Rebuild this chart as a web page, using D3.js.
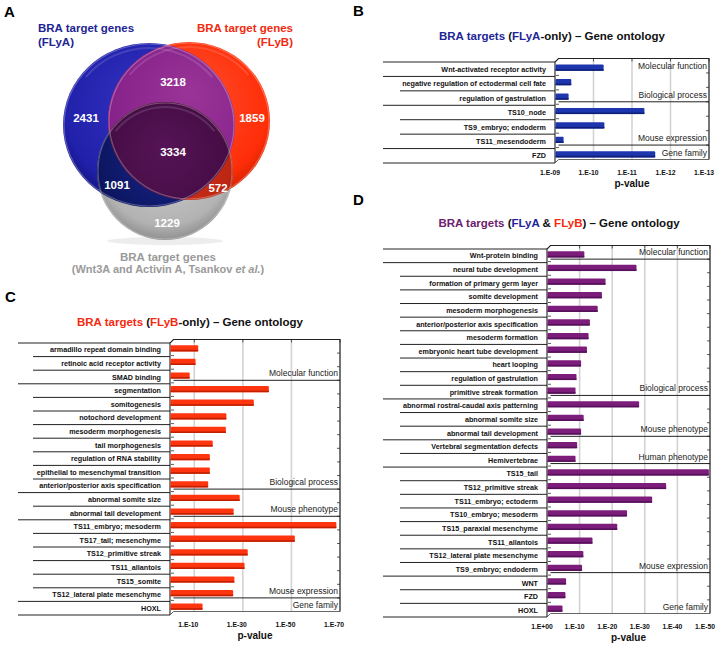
<!DOCTYPE html>
<html><head><meta charset="utf-8">
<script src="https://cdn.jsdelivr.net/npm/d3@7"></script>
<style>body{margin:0;background:#fff} svg{display:block} text{font-family:"Liberation Sans",Arial,Helvetica,sans-serif}</style>
</head><body><svg id="fig" width="719" height="646"></svg>
<script>
// ---------- DATA ----------
// Venn (panel A) region counts
const vennRegions = ["FLyA only","FLyB only","Tsankov only","FLyA & FLyB","FLyA & Tsankov","FLyB & Tsankov","all three"];
const vennCounts  = [2431, 1859, 1229, 3218, 1091, 572, 3334];

// Panel B: FLyA-only (values = -log10 p)
const bCategories = ["Wnt-activated receptor activity","negative regulation of ectodermal cell fate","regulation of gastrulation","TS10_node","TS9_embryo; endoderm","TS11_mesendoderm","FZD"];
const bValues = [10.25, 9.41, 9.34, 11.31, 10.27, 9.21, 11.59];
const bGroups = ["Molecular function","Biological process","Mouse expression","Gene family"];
const bGroupSizes = [1,2,3,1];
const bTicks = [9,10,11,12,13];
const bTickLabels = ["1.E-09","1.E-10","1.E-11","1.E-12","1.E-13"];

// Panel C: FLyB-only
const cCategories = ["armadillo repeat domain binding","retinoic acid receptor activity","SMAD binding",
  "segmentation","somitogenesis","notochord development","mesoderm morphogenesis","tail morphogenesis","regulation of RNA stability","epithelial to mesenchymal transition","anterior/posterior axis specification",
  "abnormal somite size","abnormal tail development",
  "TS11_embryo; mesoderm","TS17_tail; mesenchyme","TS12_primitive streak","TS11_allantois","TS15_somite","TS12_lateral plate mesenchyme",
  "HOXL"];
const cValues = [11.4,10.3,7.9, 40.5,34.3,23.0,22.8,17.4,16.2,16.2,15.5, 28.5,26.0, 68.3,51.2,31.8,30.5,26.3,25.8, 13.2];
const cGroups = ["Molecular function","Biological process","Mouse phenotype","Mouse expression","Gene family"];
const cGroupSizes = [3,8,2,6,1];
const cTicks = [10,30,50,70];
const cTickLabels = ["1.E-10","1.E-30","1.E-50","1.E-70"];

// Panel D: FLyA & FLyB
const dCategories = ["Wnt-protein binding",
  "neural tube development","formation of primary germ layer","somite development","mesoderm morphogenesis","anterior/posterior axis specification","mesoderm formation","embryonic heart tube development","heart looping","regulation of gastrulation","primitive streak formation",
  "abnormal rostral-caudal axis patterning","abnormal somite size","abnormal tail development",
  "Vertebral segmentation defects","Hemivertebrae",
  "TS15_tail","TS12_primitive streak","TS11_embryo; ectoderm","TS10_embryo; mesoderm","TS15_paraxial mesenchyme","TS11_allantois","TS12_lateral plate mesenchyme","TS9_embryo; endoderm",
  "WNT","FZD","HOXL"];
const dValues = [11.3, 27.3,17.8,16.7,15.4,13.0,12.6,12.1,10.3,8.9,8.6, 28.1,11.1,10.3, 9.1,8.6, 49.5,36.4,32.1,24.4,21.4,13.8,11.0,10.6, 5.7,5.5,4.6];
const dGroups = ["Molecular function","Biological process","Mouse phenotype","Human phenotype","Mouse expression","Gene family"];
const dGroupSizes = [1,10,3,2,8,3];
const dTicks = [0,10,20,30,40,50];
const dTickLabels = ["1.E+00","1.E-10","1.E-20","1.E-30","1.E-40","1.E-50"];

// ---------- DRAW ----------
const svg = d3.select("#fig");
const defs = svg.append("defs");

// panel letters
[["A",4,17],["B",353,16],["C",5,302],["D",353,205]].forEach(([t,x,y])=>{
  svg.append("text").attr("x",x).attr("y",y).attr("font-size",15).attr("font-weight","bold").text(t);
});

// ----- Venn -----
const circ = {
  A:{cx:149,cy:125,rx:86,ry:82},
  B:{cx:189,cy:121,rx:81,ry:79},
  C:{cx:165,cy:171,rx:68,ry:69}
};
function grad(id, c1, c2, c3){
  const g = defs.append("radialGradient").attr("id",id).attr("cx","50%").attr("cy","42%").attr("r","60%").attr("fx","50%").attr("fy","32%");
  g.append("stop").attr("offset","0%").attr("stop-color",c1);
  g.append("stop").attr("offset","82%").attr("stop-color",c2);
  g.append("stop").attr("offset","100%").attr("stop-color",c3);
}
grad("gA","#3434c4","#2020aa","#10107a");
grad("gB","#ff5030","#ff2e08","#d02000");
grad("gC","#d6d6d6","#b2b2b2","#8a8a8a");
grad("gAB","#9a3498","#86228a","#5e0e64");
grad("gAC","#1a2690","#0c1660","#050838");
grad("gBC","#d63a22","#bc2612","#821006");
grad("gABC","#561456","#440c44","#2c042c");
Object.entries(circ).forEach(([k,c])=>{
  defs.append("clipPath").attr("id","clip"+k).append("ellipse").attr("cx",c.cx).attr("cy",c.cy).attr("rx",c.rx).attr("ry",c.ry);
});
const venn = svg.append("g");
venn.append("ellipse").attr("cx",165).attr("cy",241).attr("rx",58).attr("ry",4).attr("fill","#000").attr("opacity",0.07);
function circleEl(parent,k,fill){
  const c=circ[k];
  return parent.append("ellipse").attr("cx",c.cx).attr("cy",c.cy).attr("rx",c.rx).attr("ry",c.ry).attr("fill",fill);
}
circleEl(venn,"A","url(#gA)");
circleEl(venn,"B","url(#gB)");
circleEl(venn.append("g").attr("clip-path","url(#clipA)"),"B","url(#gAB)");
circleEl(venn,"C","url(#gC)");
circleEl(venn.append("g").attr("clip-path","url(#clipA)"),"C","url(#gAC)");
circleEl(venn.append("g").attr("clip-path","url(#clipB)"),"C","url(#gBC)");
circleEl(venn.append("g").attr("clip-path","url(#clipA)").append("g").attr("clip-path","url(#clipB)"),"C","url(#gABC)");
// glossy edges
Object.values(circ).forEach(c=>{
  venn.append("ellipse").attr("cx",c.cx).attr("cy",c.cy).attr("rx",c.rx-1).attr("ry",c.ry-1).attr("fill","none").attr("stroke","#fff").attr("stroke-opacity",0.28).attr("stroke-width",1.2);
  venn.append("path").attr("d",d3.arc()({innerRadius:c.ry-6,outerRadius:c.ry-4,startAngle:-0.9,endAngle:0.9}))
    .attr("transform",`translate(${c.cx},${c.cy}) scale(${c.rx/c.ry},1)`).attr("fill","#fff").attr("opacity",0.13);
});
const vennPos = [[86,118],[252,118],[167,223],[173,82],[117,185],[218,188],[173,152]];
vennCounts.forEach((v,i)=>{
  venn.append("text").attr("x",vennPos[i][0]).attr("y",vennPos[i][1]).attr("dy","0.35em").attr("text-anchor","middle")
    .attr("font-size",11.5).attr("font-weight","bold").attr("fill","#fff").text(v);
});
// venn labels
function lbl(x,y,anchor,color,size,text){
  return svg.append("text").attr("x",x).attr("y",y).attr("text-anchor",anchor).attr("fill",color).attr("font-size",size).attr("font-weight","bold").text(text);
}
lbl(38,32,"start","#1e2592",11.5,"BRA target genes");
lbl(38,46,"start","#1e2592",11.5,"(FLyA)");
lbl(293,32,"end","#f22a10",11.5,"BRA target genes");
lbl(293,46,"end","#f22a10",11.5,"(FLyB)");
lbl(168,261,"middle","#9a9a9a",11.5,"BRA target genes");
const gl = lbl(168,273,"middle","#9a9a9a",11,"");
gl.append("tspan").text("(Wnt3A and Activin A, Tsankov ");
gl.append("tspan").attr("font-style","italic").text("et al.");
gl.append("tspan").text(")");

// ----- titles -----
function title(x,y,parts){
  const t = svg.append("text").attr("x",x).attr("y",y).attr("text-anchor","middle").attr("font-size",11.5).attr("font-weight","bold");
  parts.forEach(([s,c])=>t.append("tspan").attr("fill",c).text(s));
}
const BLUE="#1f2596", RED="#f52a10", PURP="#6e1d6e";
title(552,40,[["BRA targets ",BLUE],["(","#111"],["FLyA",BLUE],["-only) \u2013 Gene ontology","#111"]]);
title(190,326,[["BRA targets ",RED],["(","#111"],["FLyB",RED],["-only) \u2013 Gene ontology","#111"]]);
title(559,227,[["BRA targets ",PURP],["(","#111"],["FLyA",BLUE],[" & ","#111"],["FLyB",RED],[") \u2013 Gene ontology","#111"]]);

// ----- bar chart -----
function barChart(cfg){
  const g = svg.append("g");
  const n = cfg.cats.length;
  const y = d3.scaleBand().domain(d3.range(n)).range([cfg.top,cfg.bottom]);
  const bw = y.bandwidth();
  const x = d3.scaleLinear().domain(cfg.domain).range([cfg.left,cfg.right]);
  const dp = 3.5;
  const L=cfg.left, R=cfg.right, T=cfg.top, B=cfg.bottom;
  cfg.ticks.forEach(t=>{
    if (t<=cfg.domain[0]) return;
    g.append("line").attr("x1",x(t)).attr("x2",x(t)).attr("y1",T-dp).attr("y2",B-dp).attr("stroke","#d3d3d3").attr("stroke-width",1.6);
    g.append("line").attr("x1",x(t)).attr("x2",x(t)).attr("y1",T-dp).attr("y2",T-dp+3).attr("stroke","#333").attr("stroke-width",0.8);
  });
  const bounds = [0]; cfg.sizes.reduce((a,s)=>{bounds.push(a+s); return a+s;},0);
  const isGroupB = new Set(bounds);
  for (let i=0;i<=n;i++){
    const yy = T + i*bw;
    g.append("line").attr("x1",isGroupB.has(i)?cfg.outerX:cfg.innerX).attr("x2",L).attr("y1",yy).attr("y2",yy)
      .attr("stroke","#222").attr("stroke-width",1);
    if (i>0 && i<n){
      g.append("line").attr("x1",L+1).attr("x2",L+4).attr("y1",yy-1).attr("y2",yy-1).attr("stroke","#333").attr("stroke-width",0.8);
      g.append("line").attr("x1",R-3).attr("x2",R).attr("y1",yy-dp).attr("y2",yy-dp).attr("stroke","#333").attr("stroke-width",0.8);
    }
  }
  bounds.slice(1,-1).forEach((b,j)=>{
    if (cfg.skipPlotLine && cfg.skipPlotLine.includes(j)) return;
    const yy = T + b*bw - dp;
    g.append("line").attr("x1",L+dp).attr("x2",R).attr("y1",yy).attr("y2",yy).attr("stroke","#222").attr("stroke-width",1);
  });
  g.append("path").attr("d",`M${L},${B}L${L},${T}L${L+dp},${T-dp}L${R},${T-dp}L${R},${B-dp}`)
    .attr("fill","none").attr("stroke","#222").attr("stroke-width",1.1);
  g.append("path").attr("d",`M${L},${B}L${L+dp},${B-dp}L${R},${B-dp}`).attr("fill","none").attr("stroke","#555").attr("stroke-width",0.9);
  const bh = 6.2;
  cfg.values.forEach((v,i)=>{
    const yc = y(i)+bw/2-1.5;
    const w = x(v)-L;
    g.append("rect").attr("x",L+0.5).attr("y",yc-bh/2).attr("width",w).attr("height",bh).attr("rx",1).attr("fill",cfg.color);
    g.append("rect").attr("x",L+0.5).attr("y",yc+bh/2-1.6).attr("width",w).attr("height",1.6).attr("fill",cfg.dark);
  });
  cfg.cats.forEach((c,i)=>{
    g.append("text").attr("x",cfg.labelX).attr("y",y(i)+bw/2+2.6).attr("text-anchor","end")
      .attr("font-size",7.2).attr("font-weight","bold").attr("fill","#111").text(c);
  });
  cfg.groups.forEach((gn,j)=>{
    const yy = T + bounds[j+1]*bw - dp - 4;
    g.append("text").attr("x",R-2).attr("y",yy).attr("text-anchor","end").attr("font-size",8.5).attr("fill","#222").text(gn);
  });
  cfg.ticks.forEach((t,i)=>{
    g.append("text").attr("x",x(t)+cfg.tickShift).attr("y",B+12).attr("text-anchor","middle")
      .attr("font-size",6.8).attr("font-weight","bold").attr("fill","#111").text(cfg.tickLabels[i]);
  });
  g.append("text").attr("x",(L+R)/2).attr("y",B+24).attr("text-anchor","middle").attr("font-size",10).attr("font-weight","bold").attr("fill","#111").text("p-value");
}

barChart({cats:bCategories, values:bValues, groups:bGroups, sizes:bGroupSizes, ticks:bTicks, tickLabels:bTickLabels,
  domain:[9,13], top:62, bottom:163, left:555, right:709, labelX:546, outerX:383, innerX:400, tickShift:-5,
  color:"#1d36ad", dark:"#0f1f78", skipPlotLine:[0]});
barChart({cats:cCategories, values:cValues, groups:cGroups, sizes:cGroupSizes, ticks:cTicks, tickLabels:cTickLabels,
  domain:[0,70], top:343, bottom:615, left:170, right:340, labelX:161, outerX:18, innerX:33, tickShift:-6,
  color:"#ff3510", dark:"#c02000"});
barChart({cats:dCategories, values:dValues, groups:dGroups, sizes:dGroupSizes, ticks:dTicks, tickLabels:dTickLabels,
  domain:[0,50], top:249, bottom:617, left:547, right:710, labelX:538, outerX:383, innerX:400, tickShift:-5,
  color:"#7d1d7b", dark:"#55105a"});
</script></body></html>
